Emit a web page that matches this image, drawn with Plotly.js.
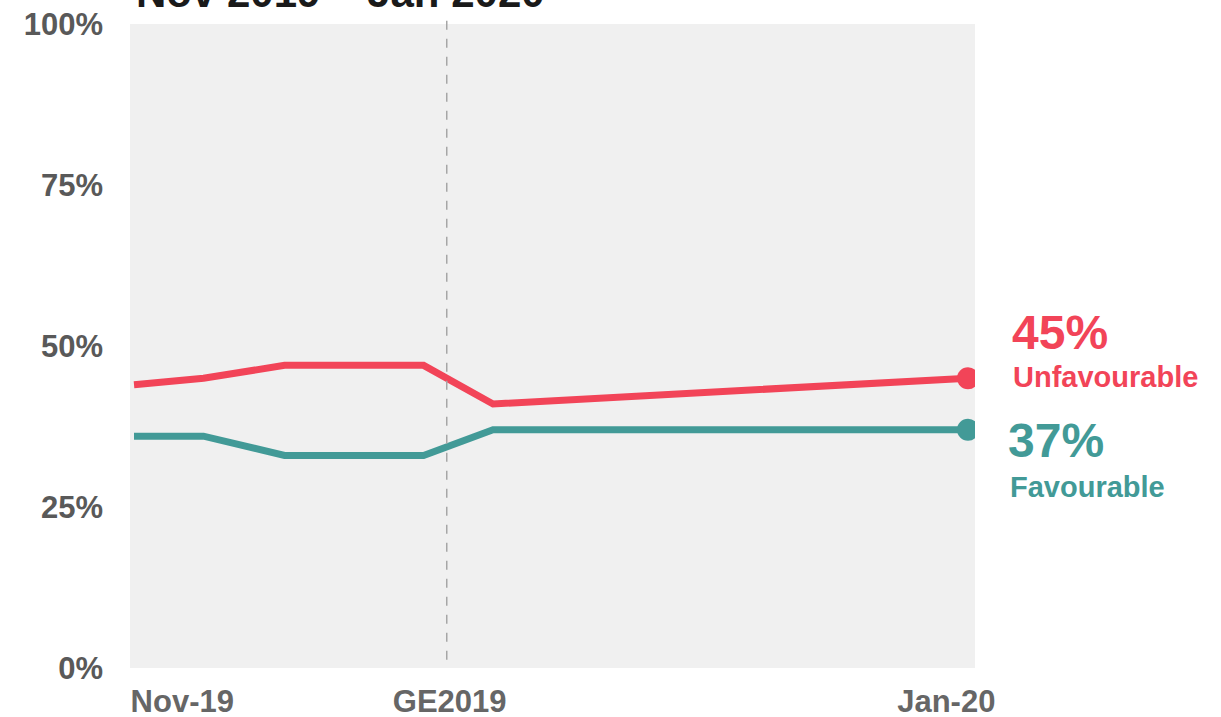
<!DOCTYPE html>
<html>
<head>
<meta charset="utf-8">
<script src="https://cdn.plot.ly/plotly-3.0.1.min.js"></script>
<style>html,body{margin:0;padding:0;background:#fff;}#chart{width:1221px;height:717px;}</style>
</head>
<body>
<div id="chart"></div>
<script>
const pollDates = ['2019-11-15', '2019-11-21', '2019-11-28', '2019-12-10', '2019-12-16', '2020-01-26'];
const unfavourable = [44, 45, 47, 47, 41, 45];
const favourable = [36, 36, 33, 33, 37, 37];
const electionDate = '2019-12-12';
const tickDates = ['2019-11-19 04:00', '2019-12-12 06:00', '2020-01-24 03:00'];
const tickLabels = ['Nov-19', 'GE2019', 'Jan-20'];
const yTicks = [0, 25, 50, 75, 100];
const yTickLabels = ['0%', '25%', '50%', '75%', '100%'];
const titleText = 'Nov 2019 – Jan 2020';

const RED = '#F24458';
const TEAL = '#429A97';
const FONT = 'Liberation Sans, Arial, sans-serif';
const last = pollDates.length - 1;

const traces = [
  {x: pollDates, y: unfavourable, type: 'scatter', mode: 'lines', line: {color: RED, width: 7}, hoverinfo: 'skip'},
  {x: pollDates, y: favourable, type: 'scatter', mode: 'lines', line: {color: TEAL, width: 7}, hoverinfo: 'skip'},
  {x: [pollDates[last]], y: [unfavourable[last]], type: 'scatter', mode: 'markers', marker: {color: RED, size: 22}, hoverinfo: 'skip'},
  {x: [pollDates[last]], y: [favourable[last]], type: 'scatter', mode: 'markers', marker: {color: TEAL, size: 22}, hoverinfo: 'skip'}
];

const layout = {
  width: 1221, height: 717,
  margin: {l: 130, r: 246, t: 24, b: 49},
  paper_bgcolor: '#ffffff',
  plot_bgcolor: '#F0F0F0',
  showlegend: false,
  xaxis: {
    type: 'date',
    range: ['2019-11-14 15:42', '2020-01-26 14:33'],
    showgrid: false, zeroline: false, showline: false,
    tickvals: tickDates, ticktext: tickLabels,
    ticks: '', ticklabelstandoff: 12,
    tickfont: {family: FONT, size: 31, color: '#666666', weight: 'bold'}
  },
  yaxis: {
    range: [0, 100],
    tickvals: yTicks, ticktext: yTickLabels,
    showgrid: false, zeroline: false, showline: false,
    ticks: '', ticklabelstandoff: 26,
    tickfont: {family: FONT, size: 31, color: '#595959', weight: 'bold'}
  },
  shapes: [
    {type: 'line', xref: 'x', yref: 'paper', x0: electionDate, x1: electionDate, y0: 0.013, y1: 1.005,
     line: {color: '#A6A6A6', width: 1.5, dash: 'dash'}}
  ],
  annotations: [
    {xref: 'paper', yref: 'paper', x: 0.0, y: 1.0, xshift: 4, yshift: 6, xanchor: 'left', yanchor: 'bottom',
     text: titleText, showarrow: false, font: {family: FONT, size: 42, color: '#1a1a1a', weight: 'bold'}},
    {xref: 'x', yref: 'y', x: pollDates[last], y: unfavourable[last], xanchor: 'left', yanchor: 'middle',
     xshift: 42, yshift: 46, text: unfavourable[last] + '%', showarrow: false,
     font: {family: FONT, size: 48, color: RED, weight: 'bold'}},
    {xref: 'x', yref: 'y', x: pollDates[last], y: unfavourable[last], xanchor: 'left', yanchor: 'middle',
     xshift: 43, yshift: 1, text: 'Unfavourable', showarrow: false,
     font: {family: FONT, size: 29, color: RED, weight: 'bold'}},
    {xref: 'x', yref: 'y', x: pollDates[last], y: favourable[last], xanchor: 'left', yanchor: 'middle',
     xshift: 38, yshift: -11, text: favourable[last] + '%', showarrow: false,
     font: {family: FONT, size: 48, color: TEAL, weight: 'bold'}},
    {xref: 'x', yref: 'y', x: pollDates[last], y: favourable[last], xanchor: 'left', yanchor: 'middle',
     xshift: 40, yshift: -57, text: 'Favourable', showarrow: false,
     font: {family: FONT, size: 29, color: TEAL, weight: 'bold'}}
  ]
};

Plotly.newPlot('chart', traces, layout, {displayModeBar: false, staticPlot: true});
</script>
</body>
</html>
